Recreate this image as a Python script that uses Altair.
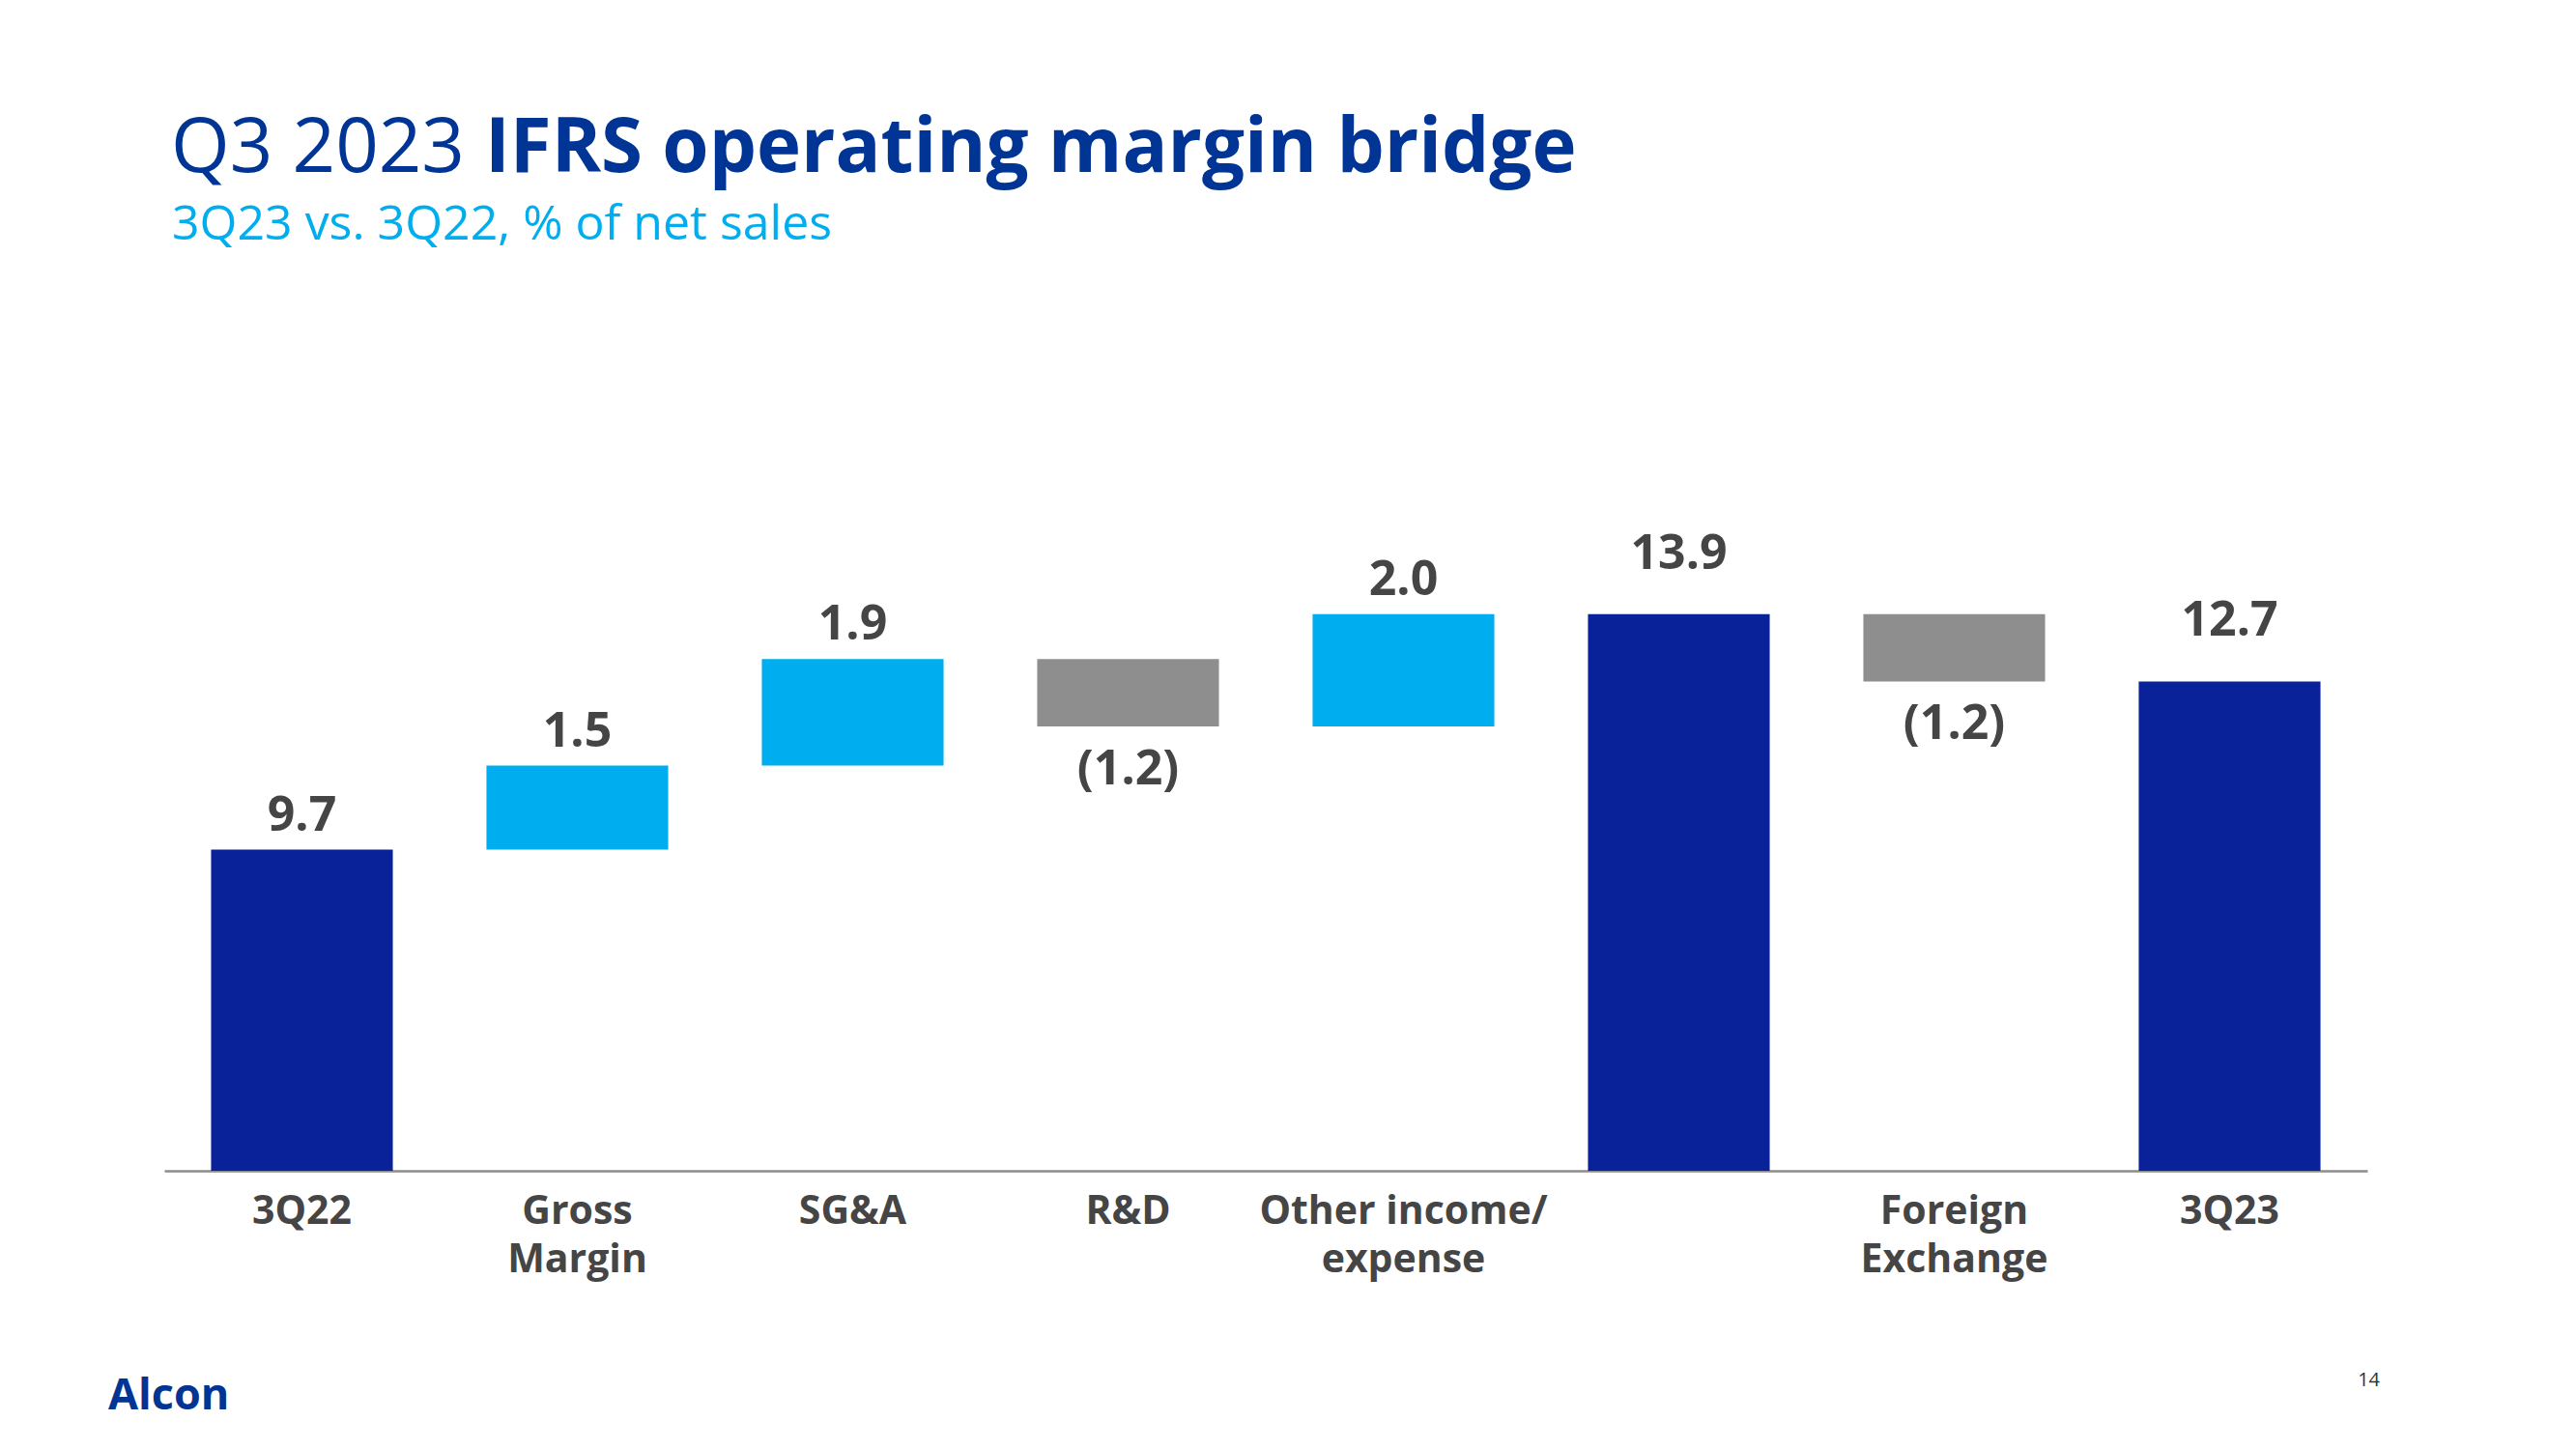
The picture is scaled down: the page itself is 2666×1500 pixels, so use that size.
import altair as alt
import pandas as pd

# ---- data ----
categories = ["3Q22", "Gross|Margin", "SG&A", "R&D", "Other income/|expense", " ", "Foreign|Exchange", "3Q23"]
values = [9.7, 1.5, 1.9, -1.2, 2.0, 13.9, -1.2, 12.7]
kinds = ["total", "increase", "increase", "decrease", "increase", "total", "decrease", "total"]

title_regular = "Q3 2023"
title_bold = "IFRS operating margin bridge"
subtitle_text = "3Q23 vs. 3Q22, % of net sales"
logo_text = "Alcon"
page_text = "14"

# ---- build waterfall table ----
rows = []
running = 0.0
for c, v, k in zip(categories, values, kinds):
    if k == "total":
        start, end = 0.0, v
        running = v
    else:
        start = running
        end = round(running + v, 4)
        running = end
    label = f"({abs(v):.1f})" if v < 0 else f"{v:.1f}"
    rows.append(dict(cat=c, start=start, end=end, top=max(start, end),
                     bottom=min(start, end), kind=k, label=label))
df = pd.DataFrame(rows)

FONT = "Open Sans"
NAVY = "#0A2299"
LIGHT = "#00AEEF"
GREY = "#8E8E8E"
TEXT = "#454545"
TITLE_BLUE = "#003595"

yscale = alt.Scale(domain=[3.97, 16], zero=False, nice=False)
xenc = alt.X(
    "cat:N", sort=categories,
    scale=alt.Scale(paddingInner=0.34, paddingOuter=0.17),
    axis=alt.Axis(
        title=None, labelAngle=0, ticks=False, tickSize=0, grid=False,
        domain=True, domainColor="#8C8C8C", domainWidth=2.5,
        labelPadding=54, labelBaseline="alphabetic", labelFont=FONT,
        labelFontWeight="bold", labelFontSize=41, labelColor=TEXT,
        labelLineHeight=50, labelLimit=800, labelOverlap=False,
        labelExpr="split(datum.label, '|')",
    ),
)
xplain = alt.X("cat:N", sort=categories)

base = alt.Chart(df)

bars = base.mark_bar(clip=True).encode(
    x=xenc,
    y=alt.Y("start:Q", scale=yscale, axis=None),
    y2="end:Q",
    color=alt.Color("kind:N", scale=alt.Scale(domain=["total", "increase", "decrease"],
                                              range=[NAVY, LIGHT, GREY]), legend=None),
)

txt = dict(font=FONT, fontWeight="bold", fontSize=50, color=TEXT,
           align="center", baseline="alphabetic")

labels_up = base.transform_filter(
    "datum.kind == 'increase' || datum.cat == '3Q22'"
).mark_text(dy=-20, **txt).encode(x=xplain, y=alt.Y("top:Q", scale=yscale), text="label:N")

labels_total = base.transform_filter(
    "datum.kind == 'total' && datum.cat != '3Q22'"
).mark_text(dy=-47, **txt).encode(x=xplain, y=alt.Y("top:Q", scale=yscale), text="label:N")

labels_down = base.transform_filter(
    "datum.kind == 'decrease'"
).mark_text(dy=60, **txt).encode(x=xplain, y=alt.Y("bottom:Q", scale=yscale), text="label:N")


def free_text(s, x, y, size, color, weight="normal", align="left"):
    return alt.Chart(pd.DataFrame({"t": [s]})).mark_text(
        font=FONT, fontSize=size, color=color, fontWeight=weight,
        align=align, baseline="alphabetic",
    ).encode(x=alt.value(x), y=alt.value(y), text="t:N")


title1 = free_text(title_regular, 7, -336, 78, TITLE_BLUE)
title2 = free_text(title_bold, 332, -336, 78, TITLE_BLUE, weight="bold")
subtitle = free_text(subtitle_text, 8, -266, 50, LIGHT)
logo = free_text(logo_text, -58, 945, 45, TITLE_BLUE, weight="bold")
page = free_text(page_text, 2293, 921, 20, "#333333", align="right")

chart = alt.layer(
    bars, labels_up, labels_total, labels_down, title1, title2, subtitle, logo, page
).properties(
    width=2280, height=698,
    autosize=alt.AutoSizeParams(type="none"),
    padding={"left": 162, "top": 506, "right": 208, "bottom": 280},
    background="white",
).configure_view(strokeWidth=0)

chart.save("out.html", embed_options={"renderer": "svg", "actions": False})
